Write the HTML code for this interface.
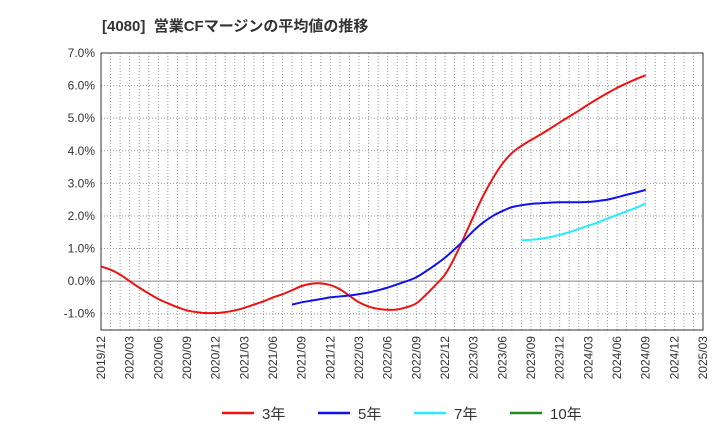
<!DOCTYPE html>
<html><head><meta charset="utf-8"><style>
body{margin:0;background:#fff;font-family:"Liberation Sans","Noto Sans CJK JP",sans-serif;}
</style></head><body>
<svg id="c" width="720" height="440" xmlns="http://www.w3.org/2000/svg">
<text x="102" y="31" font-size="15" font-weight="bold" fill="#333" font-family="Liberation Sans, Noto Sans CJK JP, sans-serif" xml:space="preserve">[4080]  営業CFマージンの平均値の推移</text>
<g id="grid"></g><g id="axes"></g><g id="series"></g><g id="legend"></g>
</svg>
<script>
const xLabels=["2019/12","2020/03","2020/06","2020/09","2020/12","2021/03","2021/06","2021/09","2021/12","2022/03","2022/06","2022/09","2022/12","2023/03","2023/06","2023/09","2023/12","2024/03","2024/06","2024/09","2024/12","2025/03"];
const yTicks=[-1,0,1,2,3,4,5,6,7];
const s3Start=0;
const s3=[0.45,0.35,0.2,0.0,-0.2,-0.38,-0.55,-0.68,-0.8,-0.9,-0.95,-0.98,-0.98,-0.95,-0.9,-0.82,-0.72,-0.62,-0.5,-0.4,-0.28,-0.15,-0.08,-0.07,-0.12,-0.25,-0.45,-0.65,-0.78,-0.85,-0.88,-0.87,-0.8,-0.68,-0.42,-0.12,0.2,0.72,1.35,2.0,2.62,3.15,3.6,3.93,4.15,4.33,4.5,4.68,4.87,5.05,5.23,5.42,5.6,5.77,5.93,6.07,6.2,6.32];
const s5Start=20;
const s5=[-0.72,-0.65,-0.6,-0.55,-0.5,-0.47,-0.44,-0.4,-0.35,-0.28,-0.2,-0.1,0.0,0.12,0.3,0.5,0.72,0.98,1.25,1.55,1.8,2.0,2.15,2.27,2.33,2.37,2.39,2.41,2.42,2.42,2.42,2.43,2.46,2.5,2.57,2.65,2.72,2.8];
const s7Start=44;
const s7=[1.25,1.27,1.3,1.35,1.42,1.5,1.6,1.7,1.8,1.92,2.03,2.14,2.25,2.38];
const s10Start=0;const s10=[];
const L=101,R=703,T=53,B=330,yMin=-1.5,yMax=7,months=63;
const X=m=>L+(R-L)*m/months;
const Y=v=>B-(B-T)*(v-yMin)/(yMax-yMin);
const NS="http://www.w3.org/2000/svg";
function mk(t,a,p){const e=document.createElementNS(NS,t);for(const k in a)e.setAttribute(k,a[k]);p.appendChild(e);return e;}
const g=document.getElementById('grid'),ax=document.getElementById('axes'),se=document.getElementById('series'),lg=document.getElementById('legend');
for(let m=1;m<months;m++){const l=mk('line',{x1:X(m),x2:X(m),y1:T,y2:B,stroke:'#999','stroke-dasharray':'1,2','stroke-width':1},g);

}
yTicks.forEach(v=>{const l=mk('line',{x1:L,x2:R,y1:Y(v),y2:Y(v),stroke:v===0?'#888':'#999','stroke-dasharray':v===0?'none':'1,2','stroke-width':1},g);


const t=mk('text',{x:L-6,y:Y(v)+4,'text-anchor':'end','font-size':12,fill:'#333'},ax);t.textContent=v.toFixed(1)+'%';

});
const fr=mk('rect',{x:L,y:T,width:R-L,height:B-T,fill:'none',stroke:'#333','stroke-width':1},ax);


xLabels.forEach((s,i)=>{const x=X(i*3);const t=mk('text',{transform:`translate(${x+4},${B+6}) rotate(-90)`,'text-anchor':'end','font-size':12,fill:'#333'},ax);t.textContent=s;

});
function path(vals,st){const p=vals.map((v,i)=>[X(st+i),Y(v)]);if(p.length<2)return'';let d=`M${p[0][0]},${p[0][1]}`;
for(let i=0;i<p.length-1;i++){const p0=p[i-1]||p[i],p1=p[i],p2=p[i+1],p3=p[i+2]||p2;
d+=` C${p1[0]+(p2[0]-p0[0])/6},${p1[1]+(p2[1]-p0[1])/6} ${p2[0]-(p3[0]-p1[0])/6},${p2[1]-(p3[1]-p1[1])/6} ${p2[0]},${p2[1]}`;}return d;}
[[s3,s3Start,'#ee1111','series-3y'],[s5,s5Start,'#1111ee','series-5y'],[s7,s7Start,'#22eeff','series-7y'],[s10,s10Start,'#228822','series-10y']].forEach(([v,st,c,n])=>{
if(!v.length)return;const e=mk('path',{d:path(v,st),fill:'none',stroke:c,'stroke-width':2},se);

});
[['3年','#ee1111',222],['5年','#1111ee',318],['7年','#22eeff',414],['10年','#228822',510]].forEach(([n,c,x])=>{
const l=mk('line',{x1:x,x2:x+32,y1:413,y2:413,stroke:c,'stroke-width':2.5},lg);


const t=mk('text',{x:x+40,y:419,'font-size':15,fill:'#333'},lg);t.textContent=n;

});
</script>
</body></html>
